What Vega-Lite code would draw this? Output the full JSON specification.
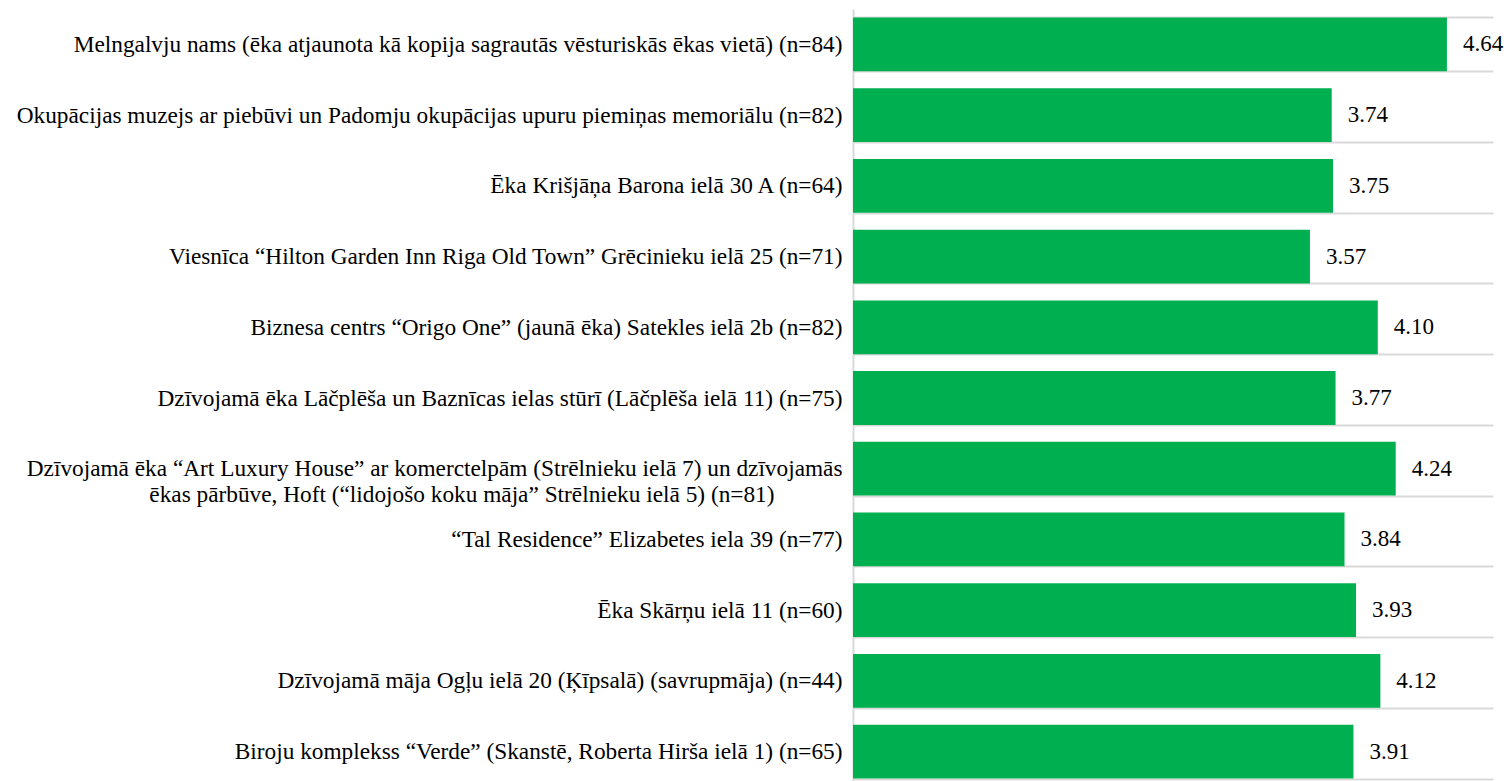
{
  "$schema": "https://vega.github.io/schema/vega-lite/v6.json",
  "width": 640,
  "height": 778,
  "autosize": {"type": "none"},
  "padding": {"left": 853, "top": 9, "right": 13, "bottom": 0},
  "background": "white",
  "config": {"view": {"stroke": null}, "font": "Liberation Serif"},
  "data": {
    "values": [
      {"label": "Melngalvju nams (ēka atjaunota kā kopija sagrautās vēsturiskās ēkas vietā) (n=84)", "value": 4.64},
      {"label": "Okupācijas muzejs ar piebūvi un Padomju okupācijas upuru piemiņas memoriālu (n=82)", "value": 3.74},
      {"label": "Ēka Krišjāņa Barona ielā 30 A (n=64)", "value": 3.75},
      {"label": "Viesnīca “Hilton Garden Inn Riga Old Town” Grēcinieku ielā 25 (n=71)", "value": 3.57},
      {"label": "Biznesa centrs “Origo One” (jaunā ēka) Satekles ielā 2b (n=82)", "value": 4.10},
      {"label": "Dzīvojamā ēka Lāčplēša un Baznīcas ielas stūrī (Lāčplēša ielā 11) (n=75)", "value": 3.77},
      {"label": "Dzīvojamā ēka “Art Luxury House” ar komerctelpām (Strēlnieku ielā 7) un dzīvojamās|ēkas pārbūve, Hoft (“lidojošo koku māja” Strēlnieku ielā 5) (n=81)\u2800\u2800\u2800\u2800", "value": 4.24},
      {"label": "“Tal Residence” Elizabetes iela 39 (n=77)", "value": 3.84},
      {"label": "Ēka Skārņu ielā 11 (n=60)", "value": 3.93},
      {"label": "Dzīvojamā māja Ogļu ielā 20 (Ķīpsalā) (savrupmāja) (n=44)", "value": 4.12},
      {"label": "Biroju komplekss “Verde” (Skanstē, Roberta Hirša ielā 1) (n=65)", "value": 3.91}
    ]
  },
  "encoding": {
    "y": {
      "field": "label",
      "type": "nominal",
      "sort": null,
      "scale": {"paddingInner": 0.24, "paddingOuter": 0.12},
      "axis": {
        "title": null,
        "ticks": false,
        "labelPadding": 11,
        "labelFontSize": 23.3,
        "labelFont": "Liberation Serif",
        "labelColor": "black",
        "labelLimit": 0,
        "domainColor": "#d9d9d9",
        "domainWidth": 2,
        "grid": true,
        "gridColor": "#d9d9d9",
        "gridWidth": 2,
        "tickBand": "extent",
        "labelExpr": "split(datum.label, '|')",
        "labelLineHeight": 26
      }
    },
    "x": {"field": "value", "type": "quantitative", "scale": {"domain": [0, 5]}, "axis": null}
  },
  "layer": [
    {"mark": {"type": "bar", "color": "#00B050"}},
    {
      "mark": {"type": "text", "align": "left", "dx": 16, "fontSize": 23, "font": "Liberation Serif", "color": "black"},
      "encoding": {"text": {"field": "value", "type": "quantitative", "format": ".2f"}}
    }
  ]
}
